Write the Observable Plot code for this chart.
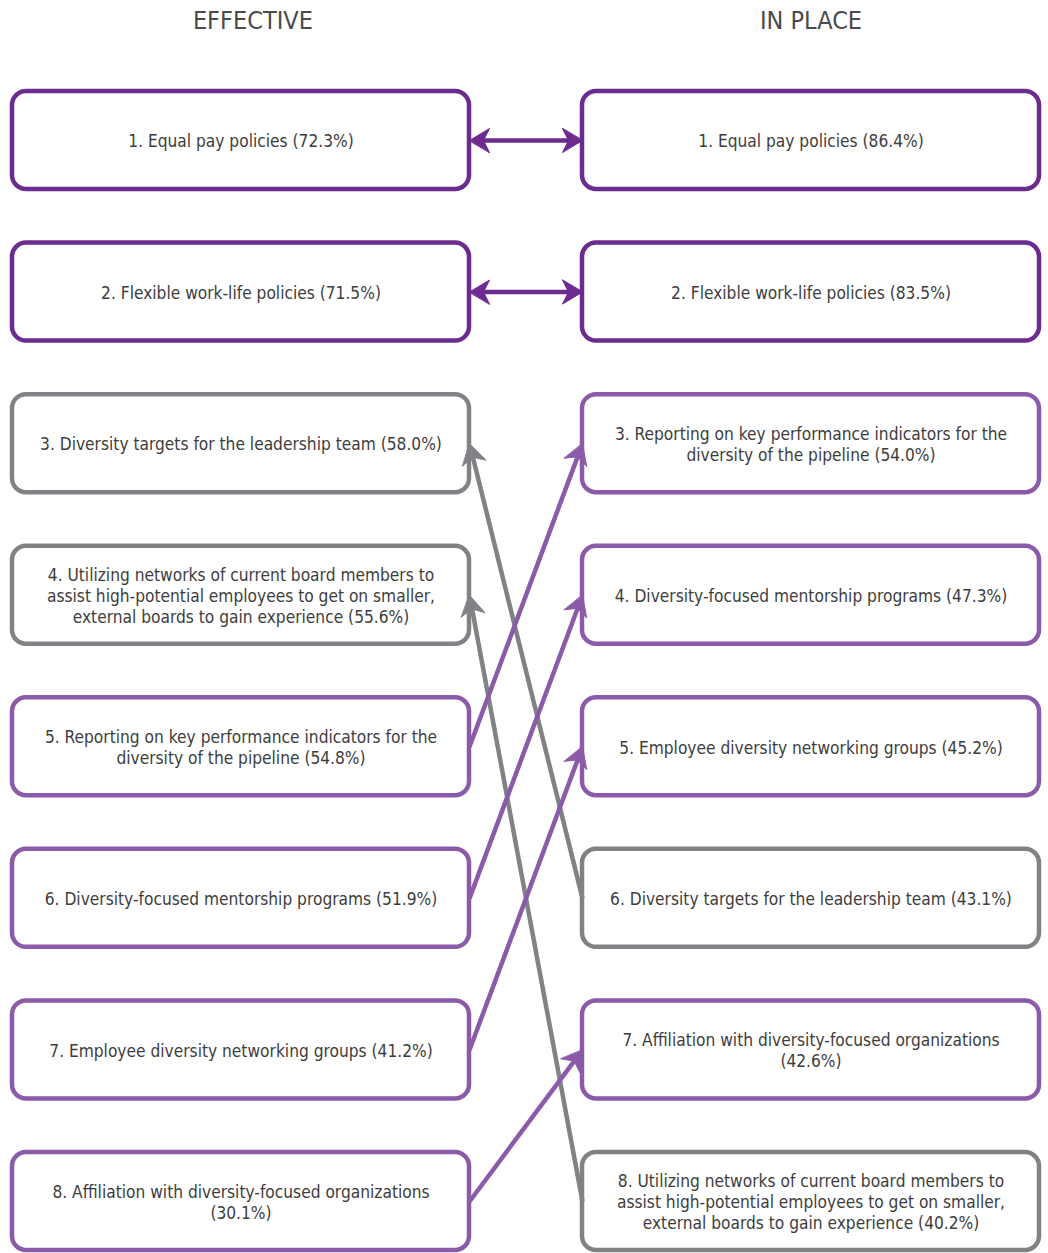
<!DOCTYPE html>
<html><head><meta charset="utf-8">
<script src="https://cdn.jsdelivr.net/npm/d3@7"></script>
<script src="https://cdn.jsdelivr.net/npm/@observablehq/plot@0.6"></script>
<style>
body{margin:0;background:#fff;}
#chart svg{display:block;}
</style>
</head><body><div id="chart"></div>
<script>
// ---- data ----
const columns = ["EFFECTIVE", "IN PLACE"];
const practices = [
  "Equal pay policies",
  "Flexible work-life policies",
  "Diversity targets for the leadership team",
  "Utilizing networks of current board members to\nassist high-potential employees to get on smaller,\nexternal boards to gain experience",
  "Reporting on key performance indicators for the\ndiversity of the pipeline",
  "Diversity-focused mentorship programs",
  "Employee diversity networking groups",
  "Affiliation with diversity-focused organizations\n"
];
const effectivePct = [72.3, 71.5, 58.0, 55.6, 54.8, 51.9, 41.2, 30.1];
const inPlacePct   = [86.4, 83.5, 43.1, 40.2, 54.0, 47.3, 45.2, 42.6];

// ---- styling ----
const colorSame = "#6c2b8f";
const colorUp = "#8b5ba9";
const colorDown = "#808285";
const textColor = "#3d3d3d";
const font = "'Liberation Sans Narrow', 'DejaVu Sans Condensed', sans-serif";

// ---- layout (in scale units) ----
const boxW = 1, gap = 113 / 457;
const colX = [0, boxW + gap];
const headerShift = [0.026, 0];
const boxH = 0.6466;
// arrowhead geometry (pixels)
const HEAD_LEN = 20, HEAD_HALF = 12, NOTCH = 14;

function ranks(values) {
  const order = d3.range(values.length).sort((a, b) => values[b] - values[a]);
  const r = new Array(values.length);
  order.forEach((idx, k) => r[idx] = k + 1);
  return r;
}
const effRank = ranks(effectivePct);
const inRank = ranks(inPlacePct);

function colorOf(i) {
  const d = inRank[i] - effRank[i];
  return d === 0 ? colorSame : d < 0 ? colorUp : colorDown;
}
function label(rank, name, pct) {
  const sep = name.endsWith("\n") ? "" : " ";
  return `${rank}. ${name}${sep}(${pct.toFixed(1)}%)`;
}

const boxes = [];
practices.forEach((name, i) => {
  boxes.push({col: 0, rank: effRank[i], label: label(effRank[i], name, effectivePct[i]), color: colorOf(i)});
  boxes.push({col: 1, rank: inRank[i], label: label(inRank[i], name, inPlacePct[i]), color: colorOf(i)});
});

const arrows = [];
const leftEdge = colX[0] + boxW, rightEdge = colX[1];
practices.forEach((name, i) => {
  const r1 = effRank[i], r2 = inRank[i], c = colorOf(i);
  if (r1 === r2) {
    const mid = (leftEdge + rightEdge) / 2;
    arrows.push({x1: mid, y1: r1, x2: leftEdge, y2: r1, color: c});
    arrows.push({x1: mid, y1: r2, x2: rightEdge, y2: r2, color: c});
  } else if (r2 > r1) {
    arrows.push({x1: rightEdge, y1: r2, x2: leftEdge, y2: r1, color: c});
  } else {
    arrows.push({x1: leftEdge, y1: r1, x2: rightEdge, y2: r2, color: c});
  }
});

const baseMarks = [
  Plot.rect(boxes, {
    x1: d => colX[d.col], x2: d => colX[d.col] + boxW,
    y1: d => d.rank - boxH / 2, y2: d => d.rank + boxH / 2,
    fill: "white", stroke: "color", strokeWidth: 4.5, rx: 14
  }),
  Plot.text(boxes, {
    x: d => colX[d.col] + boxW / 2, y: "rank", text: "label",
    fill: textColor, fontSize: 17.2, lineHeight: 1.22, textAnchor: "middle"
  }),
  Plot.text(columns, {
    x: (d, i) => colX[i] + boxW / 2 + headerShift[i], frameAnchor: "top", lineAnchor: "middle", dy: 20, text: d => d,
    fill: "#4a4a4a", fontSize: 25, textAnchor: "middle"
  })
];

function build(extra) {
  return Plot.plot({
    width: 1048,
    height: 1253,
    margin: 0,
    style: {fontFamily: font, background: "white"},
    x: {type: "linear", domain: [0, 2 * boxW + gap], range: [12, 1039], axis: null},
    y: {type: "linear", domain: [1 - boxH / 2, 8 + boxH / 2], range: [91, 1250], axis: null},
    color: {type: "identity"},
    marks: [baseMarks[0], ...extra, ...baseMarks.slice(1)]
  });
}

// first pass: read the scales, then build arrow shafts and filled heads in pixel space
const probe = build([]);
const sx = probe.scale("x"), sy = probe.scale("y");
const lin = s => ({
  fwd: v => s.range[0] + (v - s.domain[0]) / (s.domain[1] - s.domain[0]) * (s.range[1] - s.range[0]),
  inv: p => s.domain[0] + (p - s.range[0]) / (s.range[1] - s.range[0]) * (s.domain[1] - s.domain[0])
});
const X = lin(sx), Y = lin(sy);
const heads = [], shafts = [];
arrows.forEach((a, k) => {
  const px1 = X.fwd(a.x1), py1 = Y.fwd(a.y1), px2 = X.fwd(a.x2), py2 = Y.fwd(a.y2);
  const L = Math.hypot(px2 - px1, py2 - py1);
  const ux = (px2 - px1) / L, uy = (py2 - py1) / L, nx = -uy, ny = ux;
  const pt = (b, s) => ({id: k, color: a.color, x: X.inv(px2 - ux * b + nx * s), y: Y.inv(py2 - uy * b + ny * s)});
  heads.push(pt(0, 0), pt(HEAD_LEN, HEAD_HALF), pt(NOTCH, 0), pt(HEAD_LEN, -HEAD_HALF));
  const n = pt(NOTCH - 2, 0);
  shafts.push({x1: a.x1, y1: a.y1, x2: n.x, y2: n.y, color: a.color});
});

const chart = build([
  Plot.link(shafts, {x1: "x1", y1: "y1", x2: "x2", y2: "y2", stroke: "color", strokeWidth: 4.5}),
  Plot.line(heads, {x: "x", y: "y", z: "id", fill: "color", stroke: "color", strokeWidth: 1, curve: "linear-closed"})
]);
document.getElementById("chart").appendChild(chart);
</script>
</body></html>
